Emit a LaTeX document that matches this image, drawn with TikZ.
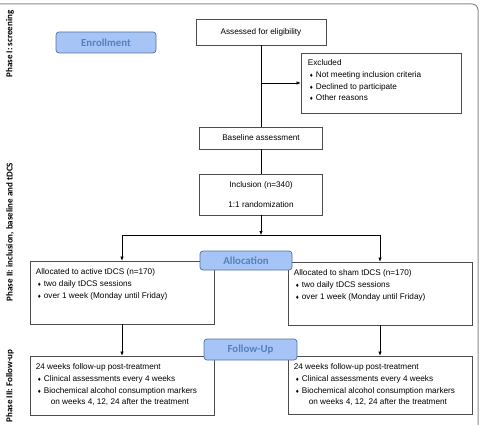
\documentclass[tikz,border=0pt]{standalone}
\usepackage{fontspec}
\setmainfont{Liberation Sans}
\newfontfamily\calib{Carlito}
\usetikzlibrary{arrows.meta, positioning}
\definecolor{tagfill}{RGB}{166,196,245}
\definecolor{tagedge}{RGB}{84,112,160}
\definecolor{tagtext}{RGB}{84,128,192}
\definecolor{framegray}{RGB}{140,140,140}
% small diamond bullet
\newcommand{\bul}{\hspace*{2pt}{\fontsize{6}{6}\selectfont\char"2666}\hspace{3pt}}

\begin{document}
\begin{tikzpicture}[x=1pt, y=-1pt, font=\fontsize{8.2}{11.7}\selectfont,
    box/.style={draw=black!70, line width=0.7pt, inner sep=0pt},
    tag/.style={draw=tagedge, fill=tagfill, rounded corners=3pt, line width=0.7pt, inner sep=0pt,
        text=tagtext, font=\calib\bfseries\fontsize{10.8}{11}\selectfont},
    phase/.style={rotate=90, font=\calib\bfseries\fontsize{9}{9}\selectfont},
    lines/.style={align=left, anchor=north west, inner sep=0pt},
    arr/.style={-{Latex[length=4pt,width=3.5pt]}, line width=0.6pt}]
    \useasboundingbox (0,0) rectangle (482,425);
    \draw[framegray, line width=1pt, rounded corners=6pt] (-10,4) -- (478,4) -- (478,440);

    % phases
    \node[phase] (ph1) at (10,44) {Phase I: screening};
    \node[phase] (ph2) at (10,232) {Phase II: inclusion, baseline and tDCS};
    \node[phase] (ph3) at (10,386) {Phase III: Follow-up};

    % screening
    \node[tag, minimum width=100pt, minimum height=21pt] (enroll) at (106,42.5) {Enrollment};
    \node[box, minimum width=130pt, minimum height=26pt] (assess) at (261,32) {Assessed for eligibility};
    \node[box, minimum width=160pt, minimum height=60pt] (excl) at (381,83) {};
    \node[lines] (excltxt) at ([xshift=7pt,yshift=-7pt]excl.north west)
        {Excluded\\ \bul Not meeting inclusion criteria\\ \bul Declined to participate\\ \bul Other reasons};

    % inclusion
    \node[box, minimum width=123pt, minimum height=22pt] (base) at (261,138) {Baseline assessment};
    \node[box, minimum width=123pt, minimum height=41pt, align=center] (incl) at (261,194.5)
        {Inclusion (n=340)\\[8pt]1:1 randomization};
    \coordinate (split) at (261,235);

    % allocation
    \node[box, minimum width=184pt, minimum height=63pt] (active) at (122,292.5) {};
    \node[lines] (activetxt) at ([xshift=6pt,yshift=-8pt]active.north west)
        {Allocated to active tDCS (n=170)\\ \bul two daily tDCS sessions\\ \bul over 1 week (Monday until Friday)};
    \node[box, minimum width=184pt, minimum height=63pt] (sham) at (380,293.5) {};
    \node[lines] (shamtxt) at ([xshift=6pt,yshift=-8pt]sham.north west)
        {Allocated to sham tDCS (n=170)\\ \bul two daily tDCS sessions\\ \bul over 1 week (Monday until Friday)};
    \node[tag, minimum width=92pt, minimum height=19pt] (alloc) at (246,260.5) {Allocation};

    % follow-up
    \node[box, minimum width=184pt, minimum height=59pt] (fleft) at (122,385.5) {};
    \node[lines] (flefttxt) at ([xshift=6pt,yshift=-8pt]fleft.north west)
        {24 weeks follow-up post-treatment\\ \bul Clinical assessments every 4 weeks\\
         \bul Biochemical alcohol consumption markers\\ \hspace*{15pt}on weeks 4, 12, 24 after the treatment};
    \node[box, minimum width=184pt, minimum height=58pt] (fright) at (380,385) {};
    \node[lines] (frighttxt) at ([xshift=6pt,yshift=-8pt]fright.north west)
        {24 weeks follow-up post-treatment\\ \bul Clinical assessments every 4 weeks\\
         \bul Biochemical alcohol consumption markers\\ \hspace*{15pt}on weeks 4, 12, 24 after the treatment};
    \node[tag, minimum width=93pt, minimum height=21pt] (fup) at (250.5,349.5) {Follow-Up};

    % connectors
    \draw[line width=0.6pt] (assess.south) -- (base.north);
    \draw[arr] (assess.south |- excl.west) -- (excl.west);
    \draw[line width=0.6pt] (base.south) -- (incl.north);
    \draw[arr] (incl.south) -- (split);
    \draw[arr] (split) -| (active.north);
    \draw[arr] (split) -| (sham.north);
    \draw[arr] (active.south) -- (fleft.north);
    \draw[arr] (sham.south) -- (fright.north);
\end{tikzpicture}
\end{document}
